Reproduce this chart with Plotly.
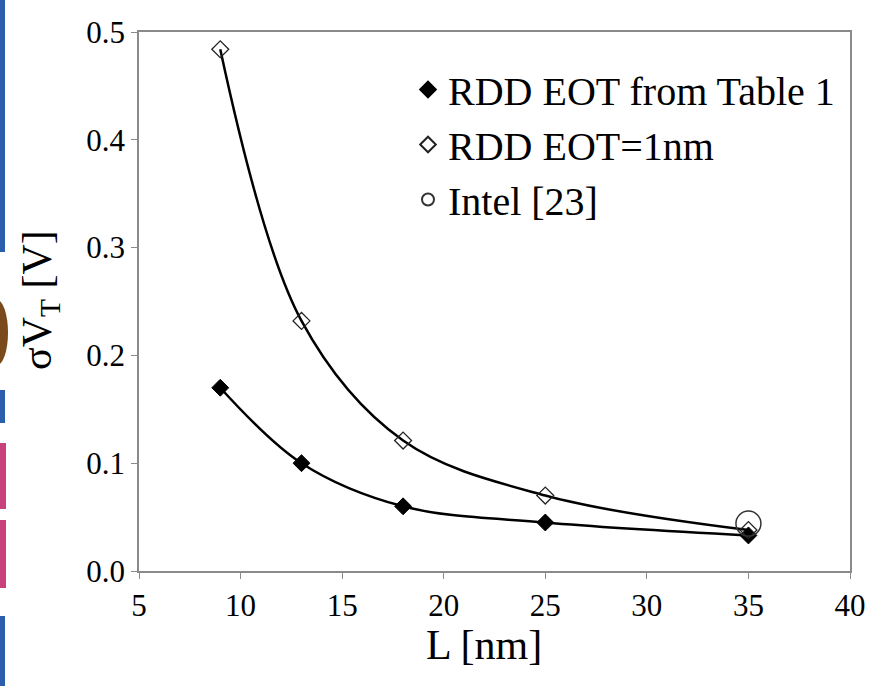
import plotly.graph_objects as go

# ---- data ----
L_nm = [9, 13, 18, 25, 35]
rdd_table1 = [0.170, 0.100, 0.060, 0.045, 0.033]
rdd_eot1 = [0.484, 0.232, 0.121, 0.070, 0.038]
intel_L = [35]
intel_sigma = [0.044]

x_ticks = [5, 10, 15, 20, 25, 30, 35, 40]
y_ticks = [0.0, 0.1, 0.2, 0.3, 0.4, 0.5]

x_title = "L [nm]"
y_title = "σV<sub>T</sub> [V]"

W, H = 873, 686
ML, MR, MT, MB = 139, 23, 32, 115
PW, PH = W - ML - MR, H - MT - MB

FONT = "Times New Roman"

fig = go.Figure()

# smooth curves
fig.add_trace(go.Scatter(x=L_nm, y=rdd_eot1, mode="lines", line=dict(color="black", width=2.5, shape="spline", smoothing=1.0), showlegend=False))
fig.add_trace(go.Scatter(x=L_nm, y=rdd_table1, mode="lines", line=dict(color="black", width=2.5, shape="spline", smoothing=1.0), showlegend=False))

# markers
fig.add_trace(go.Scatter(x=L_nm, y=rdd_table1, mode="markers", name="RDD EOT from Table 1",
                         marker=dict(symbol="diamond", size=13, color="black", line=dict(color="black", width=1))))
fig.add_trace(go.Scatter(x=L_nm, y=rdd_eot1, mode="markers", name="RDD EOT=1nm",
                         marker=dict(symbol="diamond-open", size=13, color="#222", line=dict(color="#222", width=1.3))))
fig.add_trace(go.Scatter(x=intel_L, y=intel_sigma, mode="markers", name="Intel [23]",
                         marker=dict(symbol="circle-open", size=25, color="#333", line=dict(color="#333", width=1.5))))

fig.update_xaxes(range=[5, 40], tickvals=x_ticks, ticktext=[str(v) for v in x_ticks],
                 showgrid=False, zeroline=False, showline=True, linecolor="#8a8a8a", linewidth=1.5,
                 mirror=True, ticks="outside", ticklen=6, tickcolor="#8a8a8a", tickwidth=1,
                 tickfont=dict(family=FONT, size=31, color="black"), automargin=False)
fig.update_yaxes(range=[0, 0.5], tickvals=y_ticks, ticktext=[f"{v:.1f}" for v in y_ticks],
                 showgrid=False, zeroline=False, showline=True, linecolor="#8a8a8a", linewidth=1.5,
                 mirror=True, ticks="outside", ticklen=6, tickcolor="#8a8a8a", tickwidth=1,
                 tickfont=dict(family=FONT, size=31, color="black"), automargin=False)


def px_x(p):
    return (p - ML) / PW


def px_y(p):
    return (H - MB - p) / PH


# left-edge scan artifacts
shapes = []
for (y0, y1, col, w) in [(0, 252, "#2b5fae", 5), (390, 423, "#2b5fae", 5), (616, 686, "#2b5fae", 5),
                          (443, 509, "#c8417a", 6), (520, 588, "#c8417a", 6)]:
    shapes.append(dict(type="rect", xref="paper", yref="paper", x0=px_x(0), x1=px_x(w), y0=px_y(y1), y1=px_y(y0),
                       fillcolor=col, line=dict(width=0), layer="below"))
shapes.append(dict(type="circle", xref="paper", yref="paper", x0=px_x(-14), x1=px_x(8), y0=px_y(365), y1=px_y(300),
                   fillcolor="#7a4a1c", line=dict(width=0), layer="below"))

annotations = [
    dict(text=x_title, xref="paper", yref="paper", x=px_x(484), y=px_y(645), xanchor="center", yanchor="middle",
         showarrow=False, font=dict(family=FONT, size=42, color="black")),
    dict(text=y_title, xref="paper", yref="paper", x=px_x(40), y=px_y(300), xanchor="center", yanchor="middle",
         textangle=-90, showarrow=False, font=dict(family=FONT, size=42, color="black")),
]

fig.update_layout(
    width=W, height=H,
    margin=dict(l=ML, r=MR, t=MT, b=MB, autoexpand=False),
    paper_bgcolor="white", plot_bgcolor="white",
    font=dict(family=FONT, color="black"),
    shapes=shapes,
    annotations=annotations,
    legend=dict(x=px_x(408), y=px_y(57), xanchor="left", yanchor="top",
                font=dict(family=FONT, size=40, color="black"),
                itemsizing="constant"),
    showlegend=True,
)

fig.write_html("out.html")
